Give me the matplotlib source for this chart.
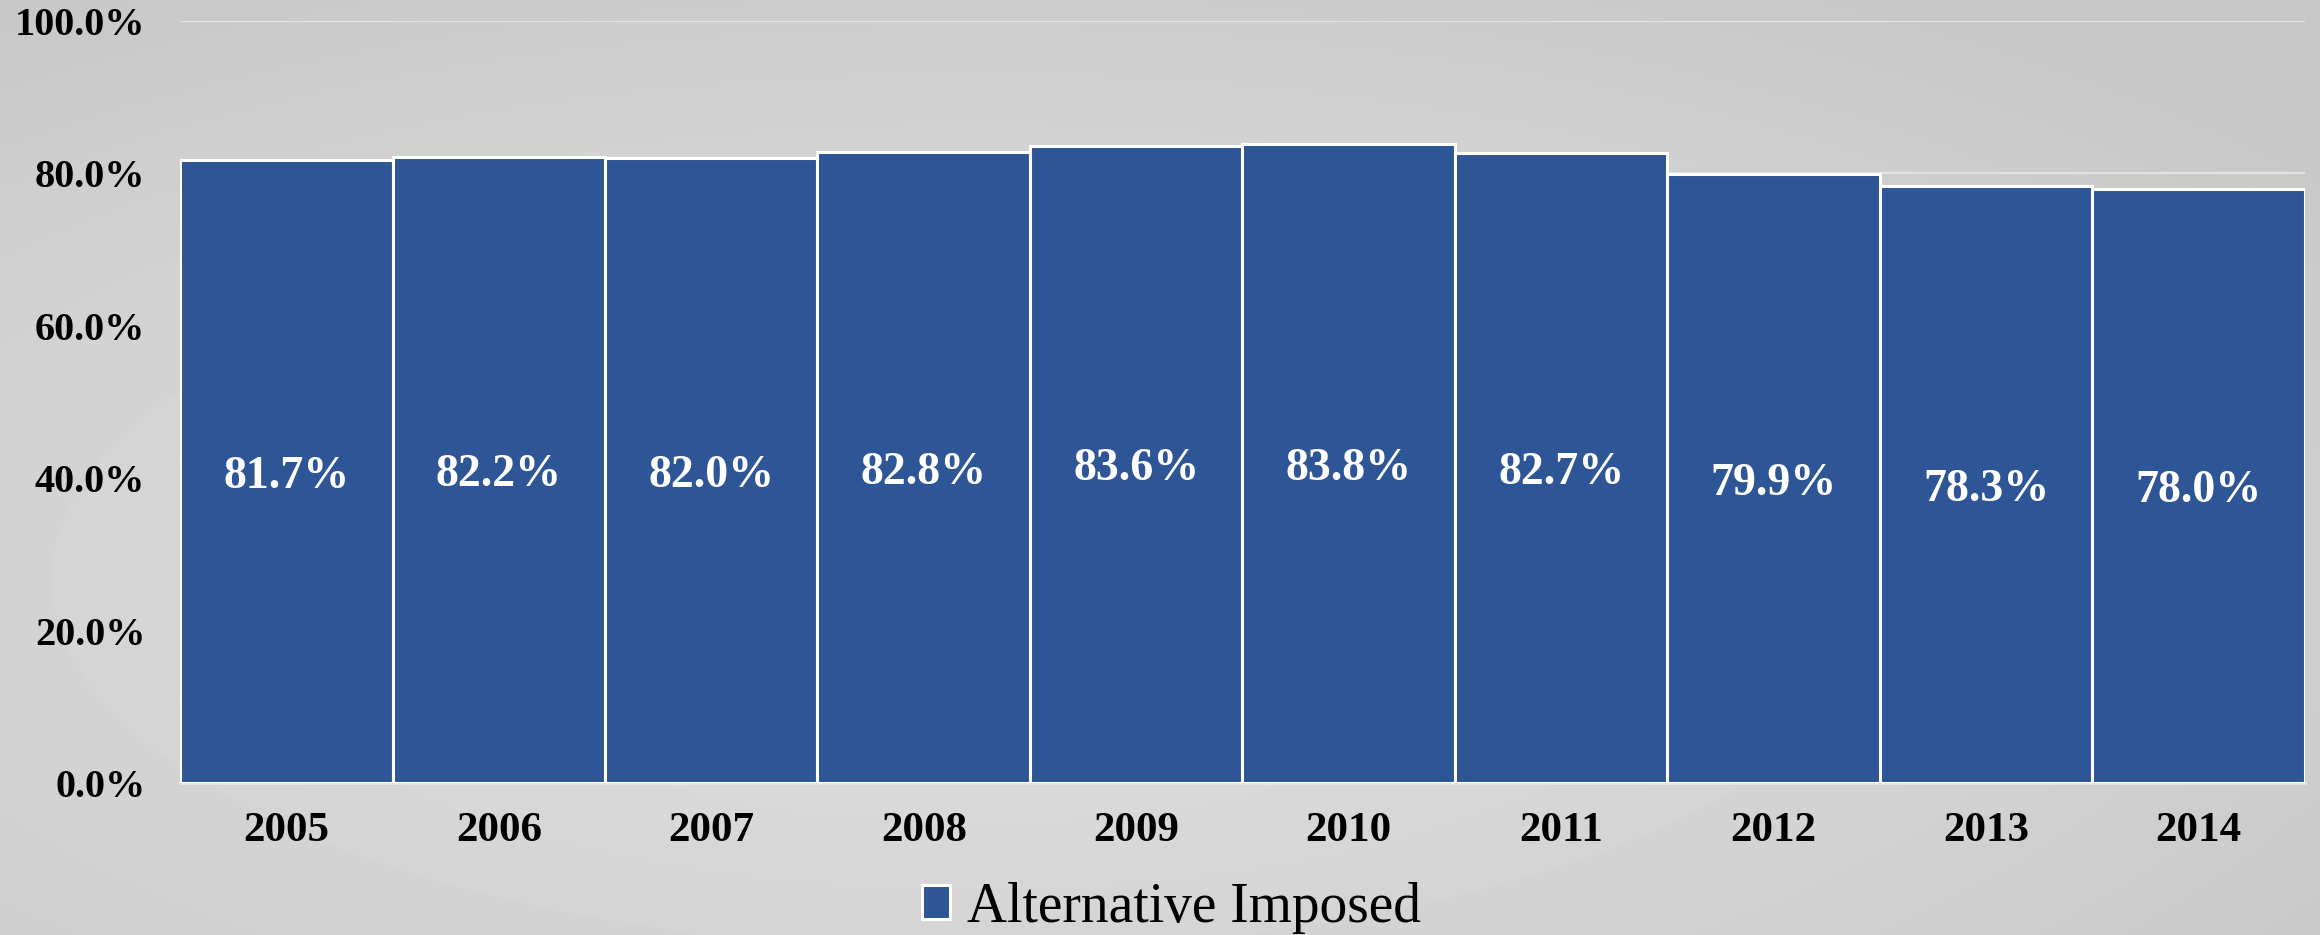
import matplotlib
matplotlib.use("Agg")
import matplotlib.pyplot as plt
import numpy as np

# data
years = ['2005', '2006', '2007', '2008', '2009', '2010', '2011', '2012', '2013', '2014']
imposed = [81.7, 82.2, 82.0, 82.8, 83.6, 83.8, 82.7, 79.9, 78.3, 78.0]
y_ticks = [0, 20, 40, 60, 80, 100]
series_name = 'Alternative Imposed'

bar_color = '#2E5595'
serif = ['Liberation Serif', 'DejaVu Serif']

fig = plt.figure(figsize=(23.2, 9.35), dpi=100)

# soft gray radial background
bg = fig.add_axes([0, 0, 1, 1], zorder=-10)
yy, xx = np.mgrid[0:1:200j, 0:1:400j]
r = np.sqrt(((xx - 0.42) / 0.75) ** 2 + ((yy - 0.62) / 0.75) ** 2)
r = np.clip(r, 0, 1)
shade = 0.865 - 0.085 * r ** 1.5
bg.imshow(shade, cmap='gray', vmin=0, vmax=1, aspect='auto',
          extent=[0, 1, 0, 1], origin='upper', interpolation='bilinear')
bg.axis('off')

ax = fig.add_axes([0.0776, 0.1626, 0.9159, 0.8149])
ax.patch.set_alpha(0)

x = np.arange(len(years))
bars = ax.bar(x, [v / 100 for v in imposed], width=1.0, color=bar_color,
              edgecolor='white', linewidth=2.2, zorder=3, label=series_name)

for xi, v in zip(x, imposed):
    ax.text(xi, v / 200, f'{v:.1f}%', ha='center', va='center_baseline',
            color='white', fontsize=33, fontweight='bold', family=serif,
            zorder=4)

ax.set_xlim(-0.5, len(years) - 0.5)
ax.set_ylim(0, 1.0)
ax.set_yticks([t / 100 for t in y_ticks])
ax.set_yticklabels([f'{t:.1f}%' for t in y_ticks])
ax.set_xticks(x)
ax.set_xticklabels(years)
for lab in ax.get_yticklabels():
    lab.set_family(serif)
    lab.set_fontweight('bold')
    lab.set_fontsize(29)
for lab in ax.get_xticklabels():
    lab.set_family(serif)
    lab.set_fontweight('bold')
    lab.set_fontsize(31)
ax.tick_params(axis='y', length=0, pad=25)
ax.tick_params(axis='x', length=0, pad=21)

ax.grid(axis='y', color='#e2e2e2', linewidth=1.6, zorder=0)
for s in ['top', 'right', 'left']:
    ax.spines[s].set_visible(False)
ax.spines['bottom'].set_color('#e6e6e6')
ax.spines['bottom'].set_linewidth(2)
ax.spines['bottom'].set_zorder(2)

leg = fig.legend(handles=[bars], labels=[series_name], loc='center',
                 bbox_to_anchor=(0.505, 0.029), frameon=False,
                 prop={'family': serif, 'size': 40},
                 handlelength=0.5, handleheight=0.55, handletextpad=0.3)

fig.savefig('out.png', dpi=100)
